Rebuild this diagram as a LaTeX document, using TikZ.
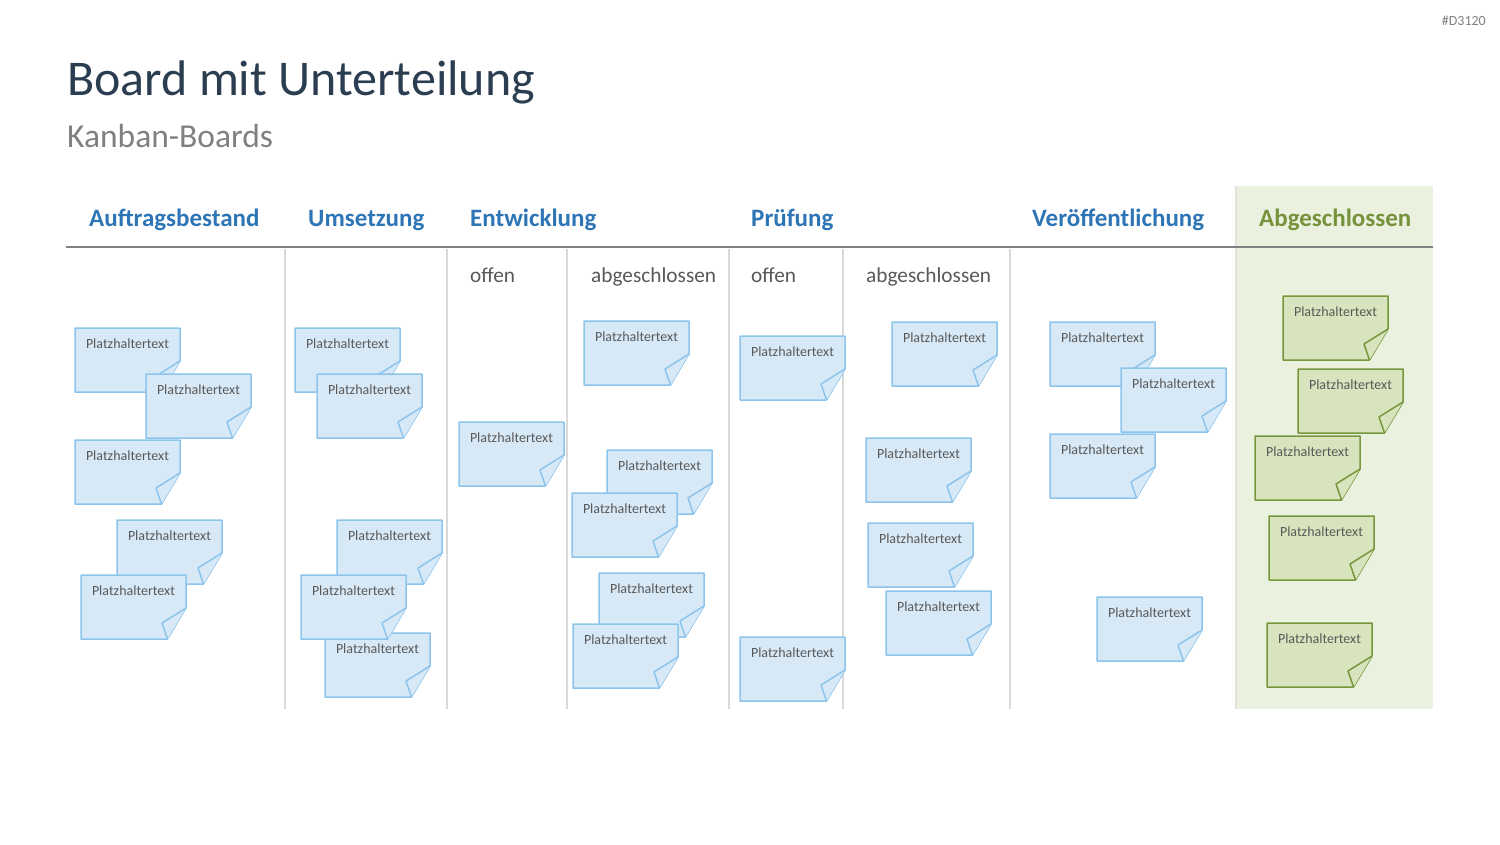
\documentclass[tikz,border=0pt]{standalone}
\usepackage{fontspec}
\setmainfont{Carlito}
\definecolor{titlecol}{HTML}{2B3D50}
\definecolor{subcol}{HTML}{808080}
\definecolor{headblue}{HTML}{2E75B6}
\definecolor{headgreen}{HTML}{76923C}
\definecolor{greenbg}{HTML}{EBF1DF}
\definecolor{noteblue}{HTML}{D7E9F7}
\definecolor{noteblueline}{HTML}{8CC4EC}
\definecolor{notegreen}{HTML}{D8E4BD}
\definecolor{notegreenline}{HTML}{77973C}
\definecolor{sepcol}{HTML}{D9D9D9}
\definecolor{textgray}{HTML}{595959}
\tikzset{
  bnote/.style={fill=noteblue, draw=noteblueline, line width=1.5pt, line join=round},
  gnote/.style={fill=notegreen, draw=notegreenline, line width=1.5pt, line join=round},
  stickytext/.style={anchor=base, inner sep=0pt, font=\fontsize{14}{16}\selectfont, text=textgray},
  colhead/.style={anchor=base west, inner sep=0pt, font=\fontsize{25}{29}\selectfont\bfseries, text=headblue},
  subhead/.style={anchor=base west, inner sep=0pt, font=\fontsize{21.3}{25}\selectfont, text=textgray},
  sepline/.style={draw=sepcol, line width=1.8pt},
}
\newcommand{\sticky}[4]{%
  \begin{scope}[shift={(#2,#3)}]
    \filldraw[#4] (0,0) -- (105,0) -- (105,33) -- (86.5,64) -- (0,64) -- cycle;
    \filldraw[#4] (86.5,64) -- (81,48) -- (105,33);
    \node[stickytext] (#1) at (52.5,20.5) {Platzhaltertext};
  \end{scope}}
\begin{document}
\begin{tikzpicture}[x=1pt,y=-1pt]
\useasboundingbox (0,0) rectangle (1500,844);
% background of finished column
\fill[greenbg] (1236,186) rectangle (1433,709);
% titles
\node[anchor=base west, inner sep=0pt, font=\fontsize{50}{58}\selectfont, text=titlecol] (title) at (67,95) {Board mit Unterteilung};
\node[anchor=base west, inner sep=0pt, font=\fontsize{33.5}{40}\selectfont, text=subcol] (subtitle) at (67,147) {Kanban-Boards};
\node[anchor=base east, inner sep=0pt, font=\fontsize{14}{16}\selectfont, text=subcol] (code) at (1486,25) {\#D3120};
% column headers
\node[colhead] (h1) at (89,226) {Auftragsbestand};
\node[colhead] (h2) at (308,226) {Umsetzung};
\node[colhead] (h3) at (470,226) {Entwicklung};
\node[colhead] (h4) at (751,226) {Prüfung};
\node[colhead] (h5) at (1032,226) {Veröffentlichung};
\node[colhead, text=headgreen] (h6) at (1259,226) {Abgeschlossen};
% sub headers
\node[subhead] (s1) at (470,282) {offen};
\node[subhead] (s2) at (591,282) {abgeschlossen};
\node[subhead] (s3) at (751,282) {offen};
\node[subhead] (s4) at (866,282) {abgeschlossen};
% separators
\foreach \xx in {285,447,567,729,843,1010} {
  \draw[sepline] (\xx,249) -- (\xx,709);
}
\draw[draw=sepcol!60!greenbg, line width=1.2pt] (1236,186) -- (1236,709);
\draw[draw=subcol, line width=2pt] (66,247) -- (1433,247);
% Auftragsbestand
\sticky{a1}{75}{328}{bnote}
\sticky{a2}{146}{374}{bnote}
\sticky{a3}{75}{440}{bnote}
\sticky{a4}{117}{520}{bnote}
\sticky{a5}{81}{575}{bnote}
% Umsetzung
\sticky{u1}{295}{328}{bnote}
\sticky{u2}{317}{374}{bnote}
\sticky{u3}{337}{520}{bnote}
\sticky{u5}{325}{633}{bnote}
\sticky{u4}{301}{575}{bnote}
% Entwicklung offen
\sticky{e1}{459}{422}{bnote}
% Entwicklung abgeschlossen
\sticky{e2}{584}{321}{bnote}
\sticky{e3}{607}{450}{bnote}
\sticky{e4}{572}{493}{bnote}
\sticky{e5}{599}{573}{bnote}
\sticky{e6}{573}{624}{bnote}
% Pruefung offen
\sticky{p1}{740}{336}{bnote}
\sticky{p2}{740}{637}{bnote}
% Pruefung abgeschlossen
\sticky{p3}{892}{322}{bnote}
\sticky{p4}{866}{438}{bnote}
\sticky{p5}{868}{523}{bnote}
\sticky{p6}{886}{591}{bnote}
% Veroeffentlichung
\sticky{v1}{1050}{322}{bnote}
\sticky{v2}{1121}{368}{bnote}
\sticky{v3}{1050}{434}{bnote}
\sticky{v4}{1097}{597}{bnote}
% Abgeschlossen
\sticky{g1}{1283}{296}{gnote}
\sticky{g2}{1298}{369}{gnote}
\sticky{g3}{1255}{436}{gnote}
\sticky{g4}{1269}{516}{gnote}
\sticky{g5}{1267}{623}{gnote}
\end{tikzpicture}
\end{document}
